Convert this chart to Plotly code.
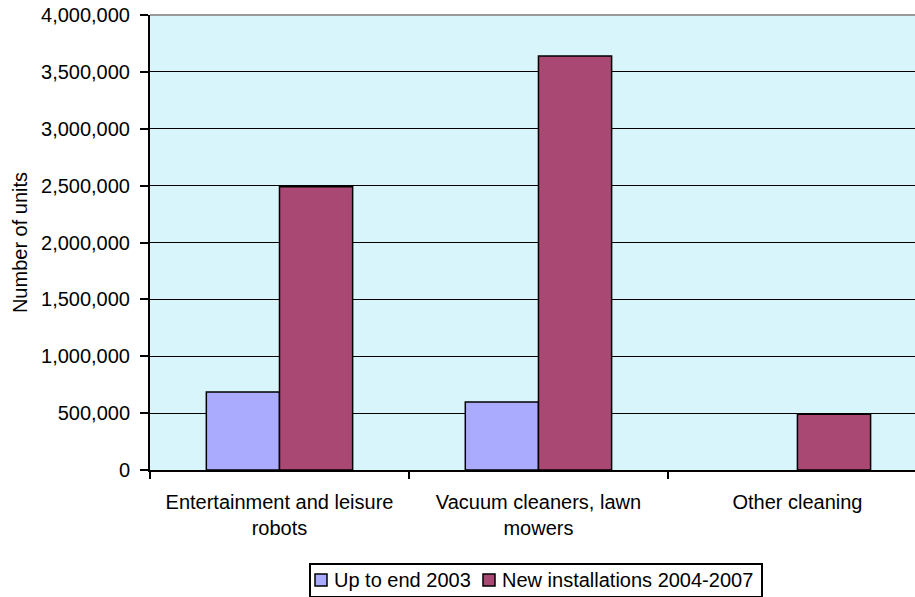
import plotly.graph_objects as go

categories = ["Entertainment and leisure<br>robots", "Vacuum cleaners, lawn<br>mowers", "Other cleaning"]
up_to_2003 = [686000, 598000, None]
new_2004_2007 = [2490000, 3640000, 490000]
series_names = ["Up to end 2003", "New installations 2004-2007"]
series_colors = ["#AAAAFF", "#AA4874"]
y_ticks = [0, 500000, 1000000, 1500000, 2000000, 2500000, 3000000, 3500000, 4000000]

font = dict(family="Arial, Liberation Sans, sans-serif", size=20, color="black")

fig = go.Figure()
for vals, name, col in zip([up_to_2003, new_2004_2007], series_names, series_colors):
    fig.add_trace(go.Bar(x=categories, y=vals, name=name, showlegend=False,
                         marker=dict(color=col, line=dict(color="black", width=1.5))))

W, H = 915, 597
L, R, T, B = 150, 0, 15, 127
pw, ph = W - L - R, H - T - B

def px(x):
    return (x - L) / pw

def py(y):
    return (H - B - y) / ph

fig.update_layout(
    width=W, height=H,
    margin=dict(l=L, r=R, t=T, b=B),
    paper_bgcolor="white", plot_bgcolor="#D7F5FA",
    font=font,
    barmode="group", bargap=0.435, bargroupgap=0,
    showlegend=False,
    xaxis=dict(range=[-0.5, 2.454], showline=True, linecolor="black", linewidth=2,
               ticks="outside", tickson="boundaries", ticklen=7, tickcolor="black",
               tickwidth=1.5, showgrid=False, tickfont=font, ticklabelstandoff=13),
    yaxis=dict(range=[0, 4000000], tickvals=y_ticks, tickformat=",d",
               showline=True, linecolor="black", linewidth=2,
               ticks="outside", ticklen=8, tickcolor="black", tickwidth=1.5,
               showgrid=True, gridcolor="black", gridwidth=1.3, zeroline=False,
               ticklabelstandoff=6,
               title=dict(text="Number of units", font=font, standoff=8),
               tickfont=font),
)
# top border of plot area
fig.add_shape(type="line", xref="paper", yref="paper", x0=0, x1=1, y0=1, y1=1,
              line=dict(color="#999999", width=2))

# legend drawn as box + swatches + text
box_l, box_r, box_t, box_b = 310, 762, 564, 597
fig.add_shape(type="rect", xref="paper", yref="paper",
              x0=px(box_l), x1=px(box_r), y0=py(box_b), y1=py(box_t),
              line=dict(color="black", width=2), fillcolor="white", layer="above")
sw_x = [315, 483]
txt_x = [332, 500]
cy = 580
for name, col, sx, tx in zip(series_names, series_colors, sw_x, txt_x):
    fig.add_shape(type="rect", xref="paper", yref="paper",
                  x0=px(sx), x1=px(sx + 12), y0=py(cy + 6), y1=py(cy - 6),
                  line=dict(color="black", width=1.5), fillcolor=col, layer="above")
    fig.add_annotation(text=name, xref="paper", yref="paper", x=px(tx), y=py(cy),
                       xanchor="left", yanchor="middle", showarrow=False, font=font)

fig.write_html("out.html", config={"displayModeBar": False},
               post_script="document.body.style.margin='0px';")
